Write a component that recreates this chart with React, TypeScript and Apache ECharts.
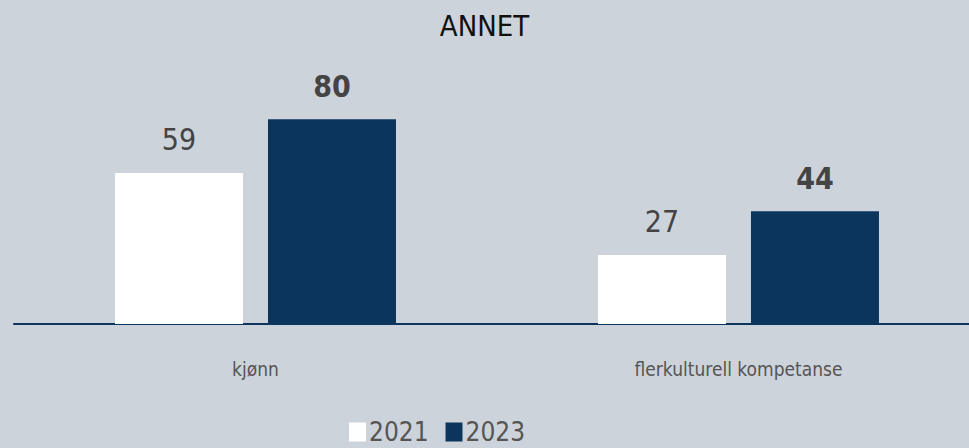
import React, { useEffect, useRef } from "react";
import * as echarts from "echarts";

const categories = ["kjønn", "flerkulturell kompetanse"];
const series2021 = [59, 27];
const series2023 = [80, 44];
const seriesNames = ["2021", "2023"];
const titleText = "ANNET";

const FONT = '"Liberation Sans Narrow", "DejaVu Sans Condensed", "Roboto Condensed", "Noto Sans", sans-serif';

export default function App() {
  const ref = useRef<HTMLDivElement>(null);
  useEffect(() => {
    if (!ref.current) return;
    const chart = echarts.init(ref.current, undefined, { renderer: "svg" });
    chart.setOption({
      animation: false,
      backgroundColor: "#cdd3db",
      textStyle: { fontFamily: FONT },
      title: {
        text: titleText,
        left: "center",
        top: 6,
        textStyle: { fontFamily: FONT, fontSize: 29, fontWeight: "normal", color: "#111" },
      },
      legend: {
        data: seriesNames,
        bottom: -2,
        left: 344,
        icon: "rect",
        itemWidth: 17,
        itemHeight: 19,
        itemGap: 17,
        textStyle: { fontFamily: FONT, fontSize: 26, color: "#555", padding: [0, 0, 0, -2] },
      },
      grid: {
        left: 14,
        width: 966,
        top: 68,
        height: 256,
        containLabel: false,
        outerBoundsMode: "none",
      },
      xAxis: {
        type: "category",
        data: categories,
        axisLine: { lineStyle: { color: "#0c355e", width: 2 } },
        axisTick: { show: false },
        axisLabel: { fontFamily: FONT, fontSize: 19, color: "#555", margin: 35 },
      },
      yAxis: {
        type: "value",
        min: 0,
        max: 100,
        show: false,
        splitLine: { show: false },
      },
      series: [
        {
          name: seriesNames[0],
          type: "bar",
          data: series2021,
          barWidth: 128,
          barGap: "19.5%",
          itemStyle: { color: "#ffffff" },
          label: {
            show: true,
            position: "top",
            distance: 18,
            fontFamily: FONT,
            fontSize: 30,
            color: "#444",
          },
        },
        {
          name: seriesNames[1],
          type: "bar",
          data: series2023,
          barWidth: 128,
          itemStyle: { color: "#0c355e" },
          label: {
            show: true,
            position: "top",
            distance: 18,
            fontFamily: FONT,
            fontSize: 30,
            fontWeight: "bold",
            color: "#444",
          },
        },
      ],
    });
    return () => chart.dispose();
  }, []);
  return <div ref={ref} style={{ width: 969, height: 448, position: "absolute", left: 0, top: 0 }} />;
}
